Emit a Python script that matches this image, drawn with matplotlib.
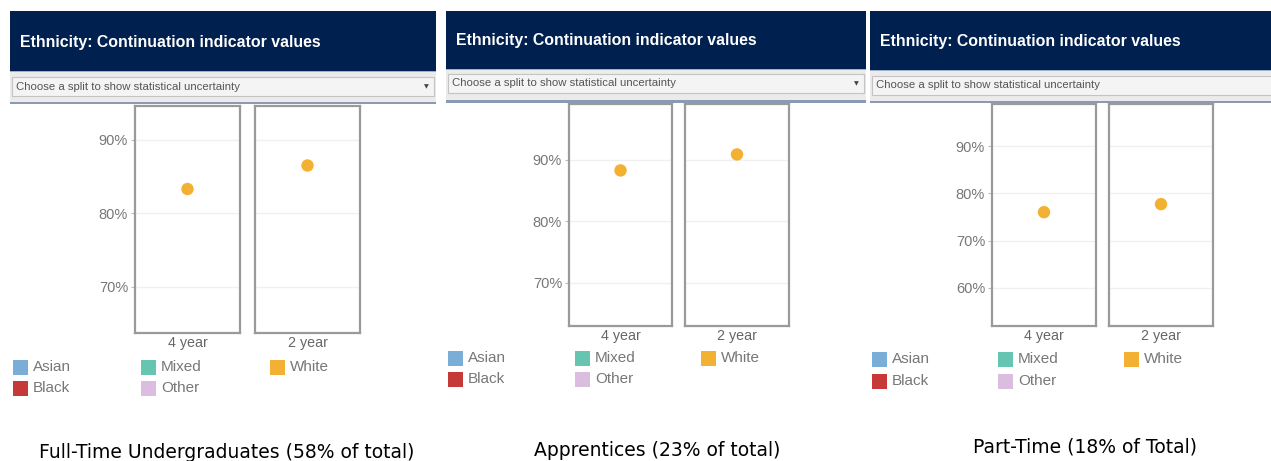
import matplotlib
matplotlib.use("Agg")
import matplotlib.pyplot as plt
from matplotlib.patches import Rectangle
from matplotlib.ticker import FuncFormatter

# data
panel_names = ["Full-Time Undergraduates (58% of total)",
               "Apprentices (23% of total)",
               "Part-Time (18% of Total)"]
terms = ["4 year", "2 year"]
white_fulltime = [83.3, 86.5]
white_apprentice = [88.3, 90.9]
white_parttime = [76.0, 77.7]
yticks_fulltime = [70, 80, 90]
yticks_apprentice = [70, 80, 90]
yticks_parttime = [60, 70, 80, 90]
ylim_fulltime = (63.7, 94.6)
ylim_apprentice = (63.0, 99.1)
ylim_parttime = (51.9, 98.9)
legend_names = ["Asian", "Mixed", "White", "Black", "Other"]
legend_colors = ["#7aaed6", "#66c5b1", "#f2b133", "#c53a36", "#dbbde0"]

header_title = "Ethnicity: Continuation indicator values"
dropdown_text = "Choose a split to show statistical uncertainty"

W, H = 1271, 461
NAVY = "#00214f"
FONT = "Liberation Sans"

fig = plt.figure(figsize=(W / 100, H / 100), dpi=100)
fig.patch.set_facecolor("white")


def fx(x):
    return x / W


def fy(y):
    return 1 - y / H


def rect(x0, y0, x1, y1, **kw):
    fig.patches.append(Rectangle((fx(x0), fy(y1)), fx(x1 - x0), (y1 - y0) / H,
                                 transform=fig.transFigure, **kw))


def panel(values, ylim, yticks, name, hx, hy, dd, sep, boxes, by, lx, ly, cap, arrow):
    x0, x1 = hx
    # header + dropdown area
    rect(x0, hy[0], x1, hy[1], facecolor=NAVY, edgecolor="none")
    rect(x0, hy[1], x1, sep, facecolor="#ebebeb", edgecolor="none")
    rect(x0, hy[1], x1, hy[1] + 1.5, facecolor="#9fb0c8", edgecolor="none")
    rect(x0 + 2, dd[0], x1 - 2, dd[1], facecolor="#f4f4f4", edgecolor="#c4c4c4", lw=0.8)
    rect(x0, sep, x1, sep + 2.5, facecolor="#8a9ab3", edgecolor="none")
    fig.text(fx(x0 + 10), fy((hy[0] + hy[1]) / 2 + 1), header_title, color="white",
             fontsize=11.4, fontweight="bold", family=FONT, va="center")
    fig.text(fx(x0 + 6), fy((dd[0] + dd[1]) / 2), dropdown_text, color="#555555",
             fontsize=8.2, family=FONT, va="center")
    if arrow:
        fig.text(fx(x1 - 10), fy((dd[0] + dd[1]) / 2), "\u25bc", color="#444444",
                 fontsize=4.5, va="center", ha="center")

    # two facets
    for i, (bx0, bx1) in enumerate(boxes):
        ax = fig.add_axes([fx(bx0), fy(by[1]), fx(bx1 - bx0), (by[1] - by[0]) / H])
        ax.scatter([0], [values[i]], s=80, color=legend_colors[2], zorder=3,
                   edgecolors="none")
        ax.set_xlim(-1, 1)
        ax.set_ylim(*ylim)
        ax.set_yticks(yticks)
        ax.grid(axis="y", color="#f0f0f0", lw=1)
        ax.set_axisbelow(True)
        ax.set_xticks([0])
        ax.set_xticklabels([terms[i]], fontsize=10.3, color="#666666", family=FONT)
        ax.tick_params(axis="x", length=0, pad=2)
        ax.tick_params(axis="y", length=3, color="#bbbbbb", pad=2)
        if i == 0:
            ax.yaxis.set_major_formatter(FuncFormatter(lambda v, p: f"{v:.0f}%"))
            for t in ax.get_yticklabels():
                t.set_fontsize(10.5)
                t.set_color("#777777")
                t.set_family(FONT)
        else:
            ax.tick_params(axis="y", left=False, labelleft=False)
        for s in ax.spines.values():
            s.set_color("#9a9a9a")
            s.set_linewidth(1.6)

    # legend
    for k, (lab, col) in enumerate(zip(legend_names, legend_colors)):
        col_x = lx[k % 3]
        row_y = ly[k // 3]
        rect(col_x, row_y - 7.5, col_x + 15, row_y + 7.5, facecolor=col, edgecolor="none")
        fig.text(fx(col_x + 20), fy(row_y), lab, fontsize=11, color="#777777",
                 family=FONT, va="center")

    fig.text(fx(cap[0]), fy(cap[1]), name, fontsize=13.5, color="black",
             family="DejaVu Sans", ha="center", va="center")


panel(white_fulltime, ylim_fulltime, yticks_fulltime, panel_names[0],
      (10, 436), (11, 71), (77, 96), 102, [(135, 240), (255, 360)], (106, 333),
      [13, 141, 270], [367, 388], (227, 452), True)
panel(white_apprentice, ylim_apprentice, yticks_apprentice, panel_names[1],
      (446, 866), (11, 69), (74, 93), 100, [(569, 672), (685, 789)], (104, 326),
      [448, 575, 701], [358, 379], (657, 450), True)
panel(white_parttime, ylim_parttime, yticks_parttime, panel_names[2],
      (870, 1275), (11, 70), (76, 95), 101, [(992, 1096), (1109, 1213)], (104, 326),
      [872, 998, 1124], [359, 381], (1085, 447), False)

fig.savefig("out.png", dpi=100)
